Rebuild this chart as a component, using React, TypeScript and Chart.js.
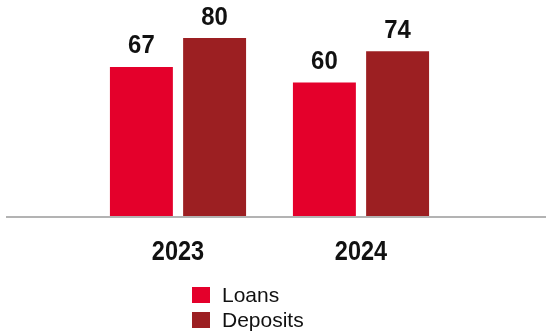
import React, { useEffect, useRef } from "react";
import { Chart, registerables } from "chart.js";

Chart.register(...registerables);

const categories = ["2023", "2024"];
const loans = [67, 60];
const deposits = [80, 74];
const seriesNames = ["Loans", "Deposits"];
const seriesColors = ["#e4002b", "#9c1f22"];

const FONT = "'Liberation Sans', Arial, Helvetica, sans-serif";

function drawCondensed(ctx: any, text: string, x: number, y: number, sx: number) {
  ctx.save();
  ctx.translate(x, y);
  ctx.scale(sx, 1);
  ctx.fillText(text, 0, 0);
  ctx.restore();
}

const valueLabels = {
  id: "valueLabels",
  afterDatasetsDraw(chart: any) {
    const ctx = chart.ctx;
    ctx.save();
    ctx.font = `bold 26px ${FONT}`;
    ctx.fillStyle = "#111111";
    ctx.textAlign = "center";
    ctx.textBaseline = "alphabetic";
    chart.data.datasets.forEach((ds: any, i: number) => {
      const meta = chart.getDatasetMeta(i);
      meta.data.forEach((bar: any, j: number) => {
        drawCondensed(ctx, String(ds.data[j]), bar.x, bar.y - 13.5, 0.92);
      });
    });
    ctx.restore();
  },
};

const categoryLabels = {
  id: "categoryLabels",
  afterDraw(chart: any) {
    const ctx = chart.ctx;
    const xs = chart.scales.x;
    const y0 = chart.scales.y.getPixelForValue(0);
    ctx.save();
    ctx.font = `bold 28px ${FONT}`;
    ctx.fillStyle = "#111111";
    ctx.textAlign = "center";
    ctx.textBaseline = "alphabetic";
    chart.data.labels.forEach((lab: string, i: number) => {
      drawCondensed(ctx, lab, xs.getPixelForTick(i), y0 + 44, 0.84);
    });
    ctx.restore();
  },
};

const baseline = {
  id: "baseline",
  afterDatasetsDraw(chart: any) {
    const ctx = chart.ctx;
    const y = chart.scales.y.getPixelForValue(0);
    ctx.save();
    ctx.strokeStyle = "#b3b3b3";
    ctx.lineWidth = 2;
    ctx.beginPath();
    ctx.moveTo(6, y + 1);
    ctx.lineTo(chart.width, y + 1);
    ctx.stroke();
    ctx.restore();
  },
};

export default function App() {
  const ref = useRef<HTMLCanvasElement>(null);
  useEffect(() => {
    if (!ref.current) return;
    const chart = new Chart(ref.current, {
      type: "bar",
      data: {
        labels: categories,
        datasets: [
          { label: seriesNames[0], data: loans, backgroundColor: seriesColors[0] },
          { label: seriesNames[1], data: deposits, backgroundColor: seriesColors[1] },
        ],
      },
      options: {
        animation: false,
        responsive: false,
        layout: { padding: { left: 86.5, right: 93.5, top: 15.75, bottom: 109 } },
        datasets: { bar: { categoryPercentage: 0.8, barPercentage: 0.86 } },
        plugins: { legend: { display: false }, tooltip: { enabled: false } },
        scales: {
          x: {
            grid: { display: false },
            border: { display: false },
            ticks: { display: false },
          },
          y: { display: false, min: 0, max: 90 },
        },
      },
      plugins: [baseline, valueLabels, categoryLabels],
    });
    return () => chart.destroy();
  }, []);

  return (
    <div style={{ position: "fixed", left: 0, top: 0, width: 546, height: 333, background: "#fff" }}>
      <canvas ref={ref} width={546} height={333} style={{ display: "block" }} />
      <div style={{ position: "absolute", left: 192, top: 282, fontFamily: FONT, fontSize: 21, color: "#111" }}>
        {seriesNames.map((n, i) => (
          <div key={n} style={{ display: "flex", alignItems: "center", height: 25 }}>
            <span style={{ width: 18, height: 16, background: seriesColors[i], marginRight: 12, display: "inline-block" }} />
            <span>{n}</span>
          </div>
        ))}
      </div>
    </div>
  );
}
